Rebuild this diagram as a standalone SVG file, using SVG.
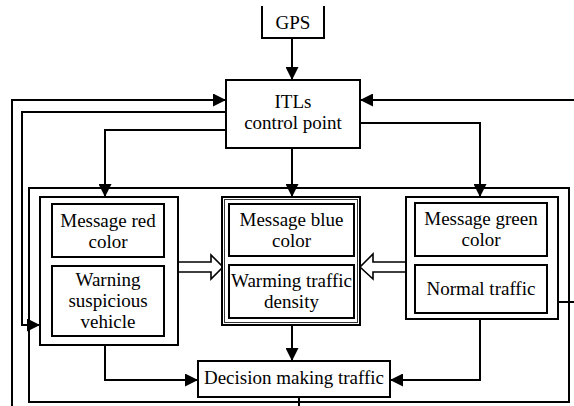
<svg xmlns="http://www.w3.org/2000/svg" width="574" height="406" viewBox="0 0 574 406">
  <style>
    .box { fill: #fff; stroke: #000; stroke-width: 2; }
    .thin { fill: none; stroke: #333; stroke-width: 1; }
    .ln { fill: none; stroke: #000; stroke-width: 2; }
    .hollow { fill: #fff; stroke: #000; stroke-width: 1.6; stroke-linejoin: miter; }
    text { font-family: "Liberation Serif", "Times New Roman", serif; font-size: 19px; fill: #000; text-anchor: middle; }
  </style>
  <defs>
    <marker id="arr" viewBox="0 0 10 10" refX="10" refY="5" markerWidth="13" markerHeight="13" markerUnits="userSpaceOnUse" orient="auto">
      <path d="M0,0 L10,5 L0,10 z" fill="#000"/>
    </marker>
  </defs>

  <rect width="574" height="406" fill="#fff"/>

  <!-- outer enclosing frame -->
  <rect id="frame" x="29" y="188" width="540" height="214" class="ln"/>

  <!-- connectors -->
  <g id="connectors">
    <line x1="292" y1="38" x2="292" y2="80" class="ln" marker-end="url(#arr)"/>
    <!-- feedback loops on the left -->
    <polyline points="12,406 12,100 226,100" class="ln" marker-end="url(#arr)"/>
    <polyline points="226,112 22,112 22,325 40,325" class="ln" marker-end="url(#arr)"/>
    <polyline points="226,130 105,130 105,197" class="ln" marker-end="url(#arr)"/>
    <!-- control point to the blue and green groups -->
    <line x1="292" y1="148" x2="292" y2="197" class="ln" marker-end="url(#arr)"/>
    <polyline points="360,123 480,123 480,197" class="ln" marker-end="url(#arr)"/>
    <!-- feedback on the right -->
    <line x1="574" y1="100" x2="360" y2="100" class="ln" marker-end="url(#arr)"/>
    <line x1="558" y1="302" x2="574" y2="302" class="ln"/>
    <!-- into the decision block -->
    <line x1="292" y1="325" x2="292" y2="361" class="ln" marker-end="url(#arr)"/>
    <polyline points="105,345 105,380 198,380" class="ln" marker-end="url(#arr)"/>
    <polyline points="480,319 480,380 390,380" class="ln" marker-end="url(#arr)"/>
    <line x1="299" y1="397" x2="299" y2="406" class="ln"/>
    <!-- hollow transfer arrows -->
    <polygon points="178,262 211,262 211,255 223,267 211,279 211,272 178,272" class="hollow"/>
    <polygon points="406,262 373,262 373,254 360,267 373,279 373,272 406,272" class="hollow"/>
  </g>

  <!-- GPS (open-top box) -->
  <g id="gps">
    <polyline points="262,6 262,38 324,38 324,6" class="ln"/>
    <text x="293" y="29">GPS</text>
  </g>

  <!-- control point -->
  <g id="itls">
    <rect x="226" y="80" width="134" height="68" class="box"/>
    <text x="293" y="108">ITLs</text>
    <text x="293" y="129">control point</text>
  </g>

  <!-- red group -->
  <g id="red-group">
    <rect x="40" y="197" width="138" height="148" class="box"/>
    <rect x="52" y="204" width="112" height="53" class="box"/>
    <text x="108" y="227">Message red</text>
    <text x="108" y="248">color</text>
    <rect x="52" y="266" width="112" height="70" class="box"/>
    <text x="108" y="286">Warning</text>
    <text x="108" y="307">suspicious</text>
    <text x="108" y="328">vehicle</text>
  </g>

  <!-- blue group -->
  <g id="blue-group">
    <rect x="222" y="197" width="138" height="128" class="box"/>
    <rect x="224.5" y="199.5" width="133" height="123" class="thin"/>
    <rect x="229" y="204" width="125" height="52" class="box"/>
    <text x="291.5" y="226">Message blue</text>
    <text x="291.5" y="247">color</text>
    <rect x="229" y="265" width="125" height="53" class="box"/>
    <text x="291.5" y="287">Warming traffic</text>
    <text x="291.5" y="308">density</text>
  </g>

  <!-- green group -->
  <g id="green-group">
    <rect x="406" y="197" width="152" height="122" class="box"/>
    <rect x="415" y="203" width="132" height="53" class="box"/>
    <text x="481" y="225">Message green</text>
    <text x="481" y="246">color</text>
    <rect x="415" y="265" width="132" height="48" class="box"/>
    <text x="481" y="295">Normal traffic</text>
  </g>

  <!-- decision block -->
  <g id="decision">
    <rect x="198" y="361" width="192" height="36" class="box"/>
    <text x="294" y="384">Decision making traffic</text>
  </g>
</svg>
